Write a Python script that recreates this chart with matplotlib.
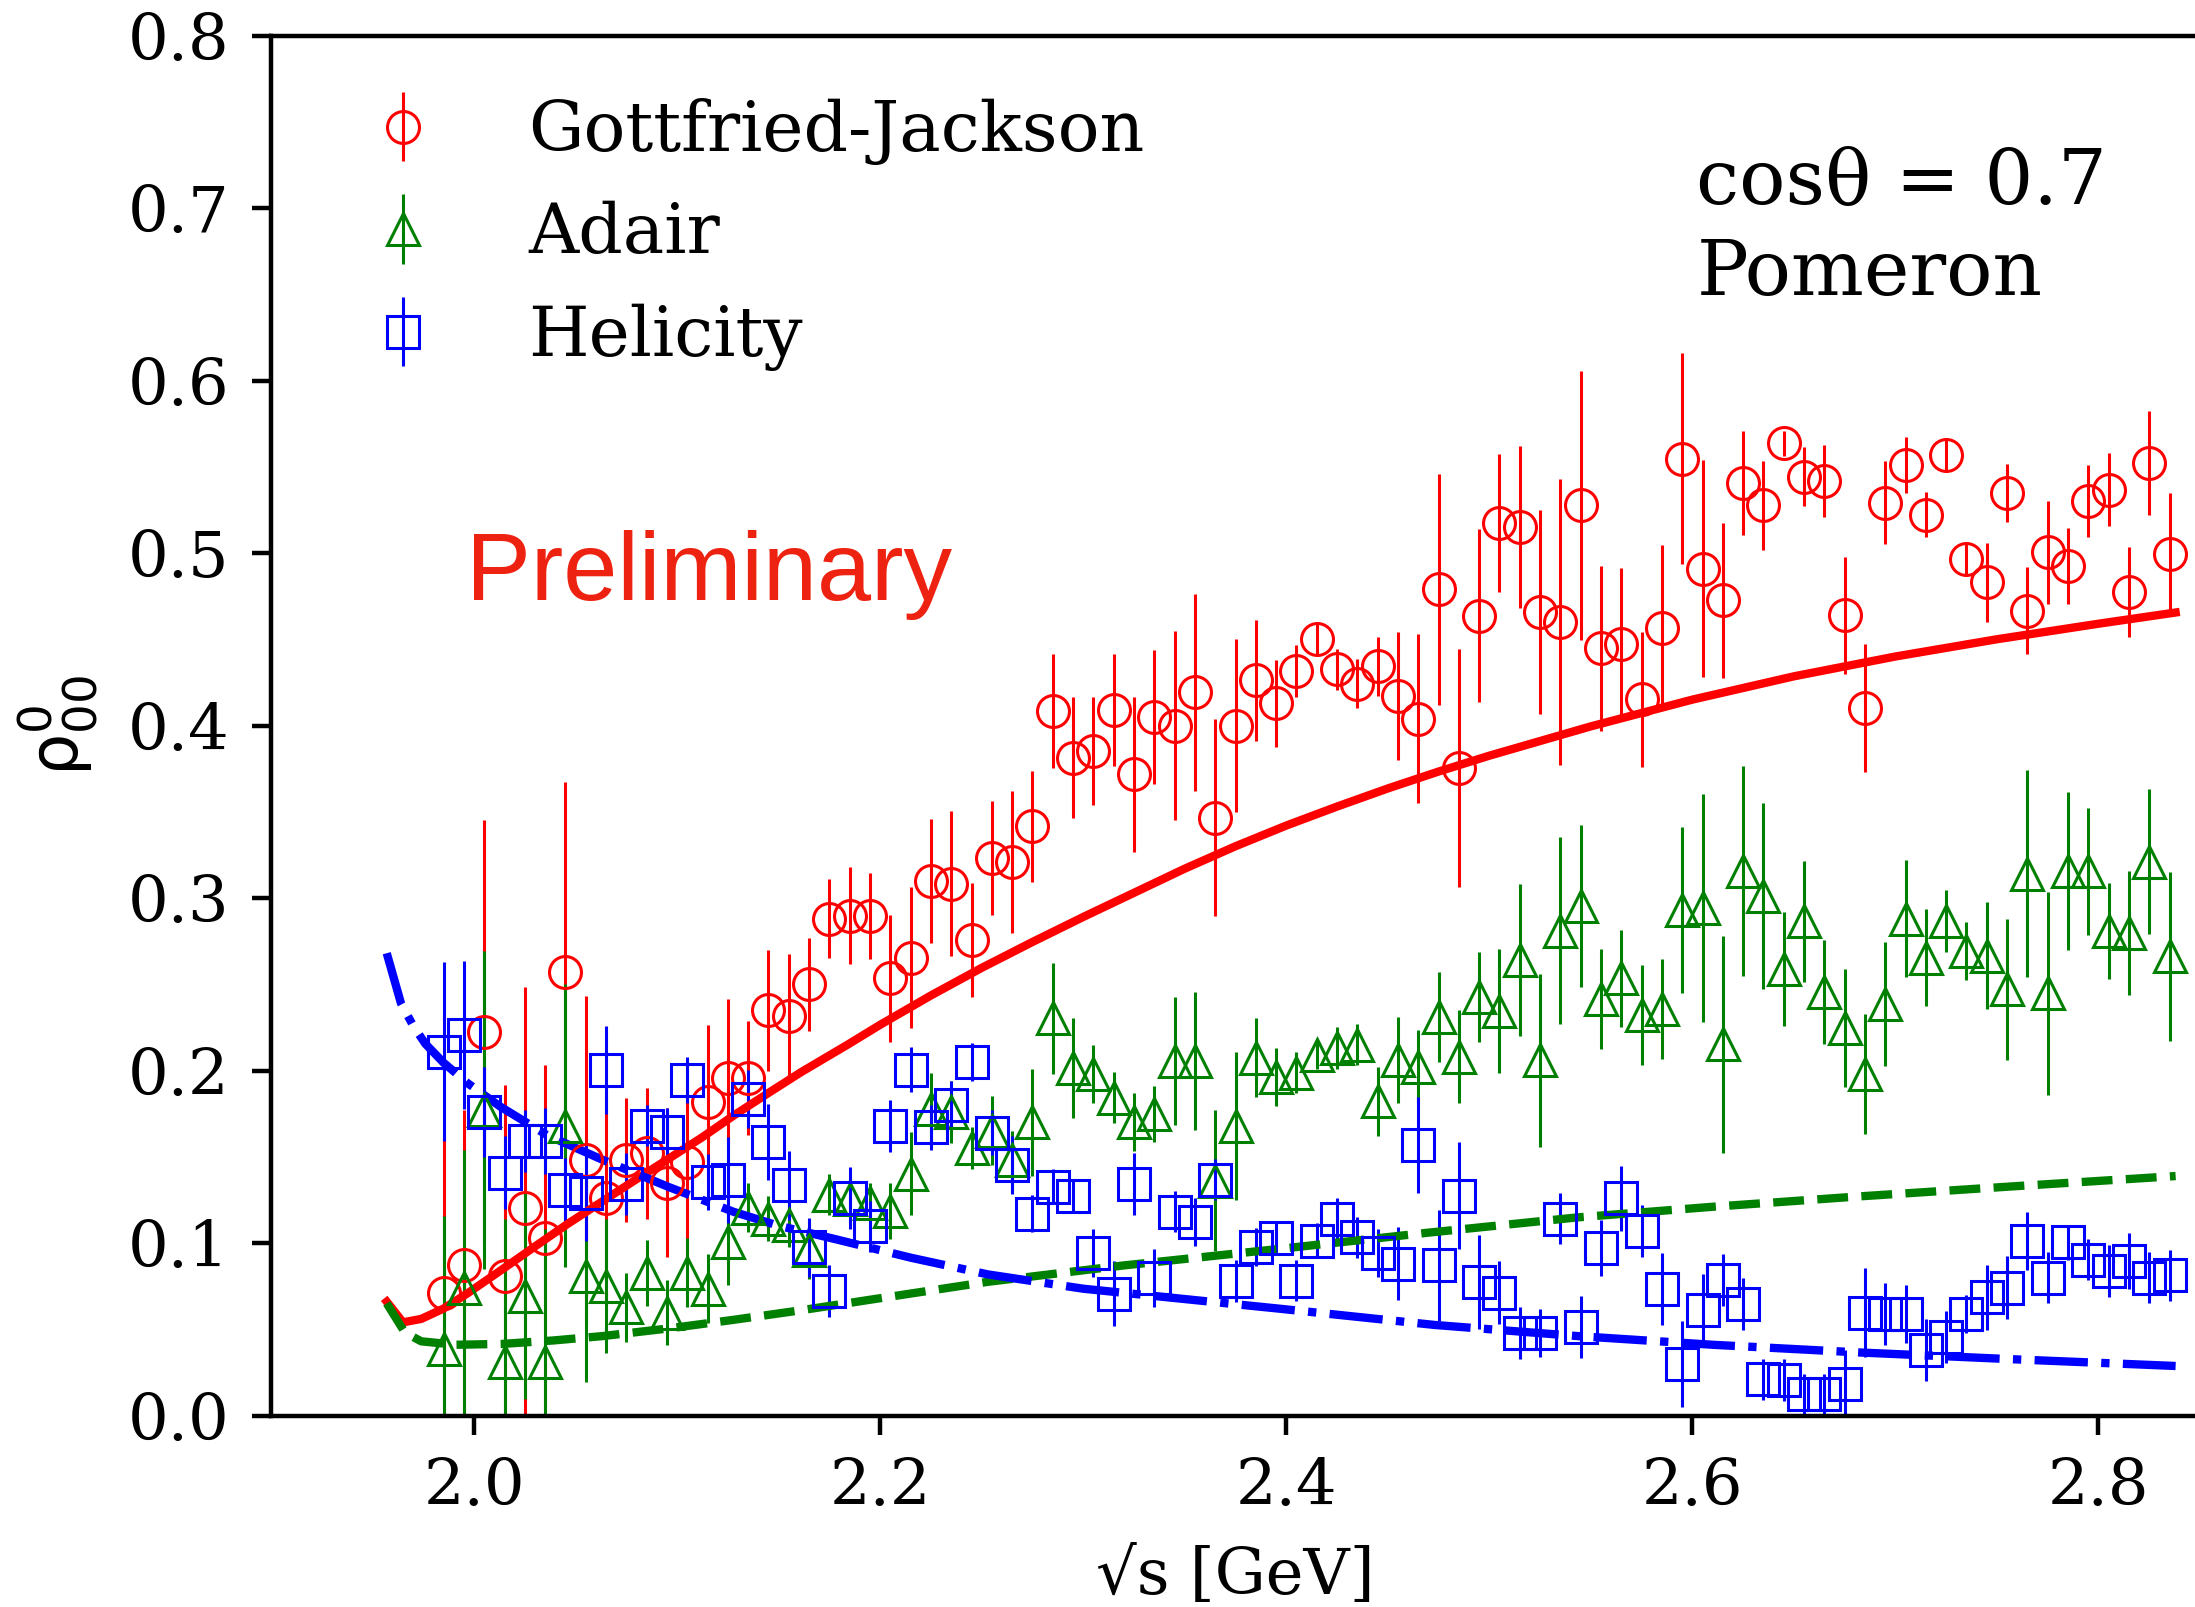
import matplotlib
matplotlib.use("Agg")
import matplotlib.pyplot as plt
import numpy as np

# ---------------- data ----------------
sqrt_s = [round(1.985 + 0.01 * i, 3) for i in range(86)]

gj_val = [0.071, 0.087, 0.2225, 0.0806, 0.1204, 0.103, 0.257, 0.148, 0.126, 0.148,
          0.152, 0.135, 0.147, 0.1816, 0.1956, 0.1955, 0.2348, 0.2316, 0.25, 0.288,
          0.2897, 0.2897, 0.2534, 0.2655, 0.31, 0.3084, 0.2755, 0.323, 0.3208, 0.3415,
          0.4084, 0.3813, 0.3853, 0.4091, 0.3718, 0.405, 0.40, 0.4193, 0.3466, 0.40,
          0.4261, 0.4128, 0.4314, 0.4504, 0.4325, 0.4243, 0.4343, 0.4171, 0.4039, 0.479,
          0.3752, 0.4637, 0.5174, 0.5149, 0.4658, 0.46, 0.5276, 0.4447, 0.4471, 0.4152,
          0.4567, 0.5547, 0.4909, 0.4726, 0.5407, 0.5276, 0.5635, 0.5443, 0.5416, 0.4638,
          0.4101, 0.5291, 0.551, 0.5222, 0.5568, 0.4965, 0.483, 0.5348, 0.4666, 0.5003,
          0.4926, 0.5303, 0.5368, 0.4773, 0.5521, 0.4995]
gj_err = [0.09, 0.09, 0.123, 0.111, 0.128, 0.10, 0.11, 0.095, 0.06, 0.036,
          0.038, 0.043, 0.056, 0.045, 0.046, 0.033, 0.035, 0.036, 0.027, 0.023,
          0.028, 0.025, 0.037, 0.041, 0.036, 0.042, 0.033, 0.033, 0.041, 0.032,
          0.033, 0.035, 0.0315, 0.0326, 0.045, 0.039, 0.055, 0.057, 0.057, 0.05,
          0.035, 0.025, 0.015, 0.009, 0.012, 0.014, 0.017, 0.037, 0.049, 0.067,
          0.069, 0.05, 0.04, 0.047, 0.059, 0.083, 0.078, 0.048, 0.044, 0.039,
          0.048, 0.061, 0.063, 0.045, 0.03, 0.026, 0.007, 0.017, 0.021, 0.034,
          0.037, 0.024, 0.0165, 0.013, 0.009, 0.0095, 0.023, 0.017, 0.025, 0.03,
          0.022, 0.021, 0.021, 0.026, 0.03, 0.035]

ad_val = [0.0388, 0.074, 0.177, 0.0308, 0.0693, 0.031, 0.168, 0.0806, 0.075, 0.0627,
          0.0827, 0.0597, 0.0827, 0.0736, 0.1005, 0.1205, 0.114, 0.1105, 0.096, 0.128,
          0.1255, 0.123, 0.1186, 0.1401, 0.1777, 0.1762, 0.155, 0.165, 0.148, 0.1701,
          0.2302, 0.2013, 0.198, 0.1843, 0.1701, 0.1748, 0.2054, 0.2054, 0.1361, 0.168,
          0.2074, 0.1962, 0.1987, 0.2088, 0.2131, 0.2149, 0.1823, 0.2059, 0.2023, 0.231,
          0.208, 0.2428, 0.2345, 0.2642, 0.2059, 0.2811, 0.2956, 0.2414, 0.2534, 0.2319,
          0.2358, 0.2932, 0.2944, 0.2151, 0.3156, 0.3012, 0.2586, 0.2865, 0.2454, 0.2247,
          0.1979, 0.2385, 0.288, 0.2654, 0.2865, 0.2692, 0.2666, 0.247, 0.3142, 0.2447,
          0.3157, 0.3154, 0.2808, 0.2796, 0.3211, 0.2662]
ad_err = [0.077, 0.08, 0.092, 0.083, 0.06, 0.077, 0.082, 0.061, 0.039, 0.02,
          0.019, 0.019, 0.02, 0.02, 0.025, 0.014, 0.013, 0.013, 0.017, 0.012,
          0.012, 0.012, 0.016, 0.024, 0.021, 0.018, 0.012, 0.02, 0.017, 0.031,
          0.032, 0.029, 0.017, 0.015, 0.017, 0.016, 0.037, 0.04, 0.041, 0.043,
          0.023, 0.017, 0.012, 0.008, 0.012, 0.012, 0.02, 0.025, 0.021, 0.026,
          0.027, 0.026, 0.036, 0.044, 0.05, 0.054, 0.047, 0.029, 0.028, 0.029,
          0.029, 0.048, 0.066, 0.063, 0.061, 0.054, 0.033, 0.035, 0.03, 0.034,
          0.035, 0.036, 0.034, 0.028, 0.018, 0.017, 0.031, 0.041, 0.06, 0.059,
          0.046, 0.037, 0.028, 0.036, 0.042, 0.049]

he_val = [0.211, 0.2207, 0.176, 0.1408, 0.159, 0.159, 0.131, 0.129, 0.2002, 0.134,
          0.168, 0.1643, 0.1946, 0.1354, 0.1365, 0.1835, 0.1585, 0.1335, 0.0975, 0.0722,
          0.1262, 0.1096, 0.1677, 0.2004, 0.1671, 0.180, 0.205, 0.164, 0.1453, 0.1171,
          0.1327, 0.1273, 0.0943, 0.0706, 0.1341, 0.0797, 0.1181, 0.1123, 0.1368, 0.078,
          0.0977, 0.103, 0.0781, 0.1014, 0.1139, 0.1032, 0.0942, 0.0881, 0.1568, 0.087,
          0.1275, 0.0774, 0.0713, 0.0477, 0.0477, 0.1142, 0.0513, 0.0971, 0.1258, 0.1071,
          0.0732, 0.030, 0.0613, 0.0784, 0.0645, 0.021, 0.0206, 0.0122, 0.0122, 0.0182,
          0.0597, 0.0589, 0.0589, 0.0378, 0.0455, 0.0589, 0.0685, 0.0742, 0.1011, 0.080,
          0.1004, 0.0904, 0.0839, 0.0896, 0.080, 0.0812]
he_err = [0.052, 0.043, 0.026, 0.021, 0.018, 0.019, 0.018, 0.028, 0.0255, 0.018,
          0.012, 0.014, 0.0135, 0.016, 0.025, 0.017, 0.022, 0.02, 0.017, 0.015,
          0.018, 0.015, 0.015, 0.013, 0.013, 0.014, 0.011, 0.013, 0.017, 0.011,
          0.01, 0.01, 0.014, 0.019, 0.018, 0.017, 0.012, 0.014, 0.012, 0.012,
          0.011, 0.01, 0.012, 0.01, 0.012, 0.012, 0.014, 0.021, 0.028, 0.032,
          0.031, 0.027, 0.018, 0.015, 0.014, 0.015, 0.018, 0.016, 0.019, 0.015,
          0.021, 0.025, 0.021, 0.015, 0.015, 0.012, 0.012, 0.012, 0.012, 0.02,
          0.026, 0.018, 0.017, 0.018, 0.015, 0.011, 0.019, 0.018, 0.017, 0.015,
          0.01, 0.012, 0.015, 0.016, 0.015, 0.015]

# model curves
gj_curve_x = [1.957, 1.965, 1.974, 1.985, 1.997, 2.013, 2.030, 2.046, 2.063, 2.080,
              2.096, 2.112, 2.128, 2.145, 2.161, 2.184, 2.200, 2.225, 2.250, 2.275,
              2.300, 2.325, 2.350, 2.375, 2.400, 2.425, 2.450, 2.475, 2.500, 2.550,
              2.600, 2.650, 2.700, 2.750, 2.800, 2.838]
gj_curve_y = [0.066, 0.054, 0.056, 0.062, 0.071, 0.084, 0.098, 0.111, 0.124, 0.137,
              0.149, 0.161, 0.174, 0.187, 0.199, 0.215, 0.2265, 0.2435, 0.2595, 0.2745,
              0.2890, 0.3030, 0.3170, 0.3300, 0.3420, 0.3530, 0.3635, 0.3733, 0.3825, 0.3995,
              0.4150, 0.4285, 0.4400, 0.4500, 0.4590, 0.4655]

ad_curve_x = [1.957, 1.966, 1.974, 1.991, 2.014, 2.039, 2.063, 2.096, 2.128, 2.161,
              2.200, 2.253, 2.320, 2.396, 2.470, 2.543, 2.610, 2.682, 2.760, 2.838]
ad_curve_y = [0.065, 0.048, 0.043, 0.041, 0.0415, 0.0435, 0.046, 0.0505, 0.0555, 0.061,
              0.068, 0.0775, 0.087, 0.0965, 0.106, 0.1148, 0.121, 0.127, 0.133, 0.1388]

he_curve_x = [1.957, 1.964, 1.970, 1.976, 1.985, 1.997, 2.013, 2.036, 2.063, 2.096,
              2.128, 2.150, 2.177, 2.215, 2.253, 2.300, 2.350, 2.396, 2.473, 2.544,
              2.610, 2.683, 2.760, 2.838]
he_curve_y = [0.268, 0.239, 0.226, 0.2155, 0.2045, 0.1925, 0.179, 0.1625, 0.1484, 0.1324,
              0.1180, 0.1100, 0.1025, 0.0915, 0.0818, 0.0735, 0.0675, 0.062, 0.0525, 0.046,
              0.041, 0.0365, 0.0325, 0.0287]

labels = ["Gottfried-Jackson", "Adair", "Helicity"]
x_ticks = [2.0, 2.2, 2.4, 2.6, 2.8]
y_ticks = [0.0, 0.1, 0.2, 0.3, 0.4, 0.5, 0.6, 0.7, 0.8]

# ---------------- figure ----------------
plt.rcParams['font.family'] = ['DejaVu Serif']
plt.rcParams['mathtext.fontset'] = 'dejavusans'

W, H, DPI = 2195, 1607, 200
fig = plt.figure(figsize=(W / DPI, H / DPI), dpi=DPI)
ax_l, ax_r = 271, 2200
ax_t, ax_b = 35.5, 1415.5
ax = fig.add_axes([ax_l / W, (H - ax_b) / H, (ax_r - ax_l) / W, (ax_b - ax_t) / H])

ms, mew, elw = 11.5, 1.1, 1.1
ax.errorbar(sqrt_s, gj_val, yerr=gj_err, fmt='o', color='red', mfc='none', mec='red',
            ms=ms, mew=mew, elinewidth=elw, capsize=0, label=labels[0])
ax.errorbar(sqrt_s, ad_val, yerr=ad_err, fmt='^', color='green', mfc='none', mec='green',
            ms=ms, mew=mew, elinewidth=elw, capsize=0, label=labels[1])
ax.errorbar(sqrt_s, he_val, yerr=he_err, fmt='s', color='blue', mfc='none', mec='blue',
            ms=ms, mew=mew, elinewidth=elw, capsize=0, label=labels[2])

ax.plot(gj_curve_x, gj_curve_y, '-', color='red', lw=3)
ax.plot(ad_curve_x, ad_curve_y, '--', color='green', lw=3)
ax.plot(he_curve_x, he_curve_y, '-.', color='blue', lw=3)

ax.set_xlim(1.9, 2.85)
ax.set_ylim(0.0, 0.8)
ax.set_xticks(x_ticks)
ax.set_xticklabels([f"{v:.1f}" for v in x_ticks])
ax.set_yticks(y_ticks)
ax.set_yticklabels([f"{v:.1f}" for v in y_ticks])
ax.tick_params(direction='out', length=7, width=1.6, labelsize=23, pad=8)
for side in ['left', 'bottom', 'top']:
    ax.spines[side].set_linewidth(1.6)
ax.spines['right'].set_visible(False)

ax.set_xlabel("√s [GeV]", fontsize=23, labelpad=10)
ax.set_ylabel(r"$\mathrm{\rho}^{0}_{00}$", fontsize=24, labelpad=10)

ax.legend(loc='upper left', frameon=False, fontsize=25, labelspacing=0.52)

ax.text(1.996, 0.473, "Preliminary", fontsize=35, family=['Liberation Sans', 'DejaVu Sans'],
        color='#ee2211', ha='left', va='baseline')
ax.text(2.602, 0.7025, "cosθ = 0.7", fontsize=27.7, ha='left', va='baseline')
ax.text(2.602, 0.6493, "Pomeron", fontsize=27.7, ha='left', va='baseline')

fig.savefig("out.png", dpi=DPI)
